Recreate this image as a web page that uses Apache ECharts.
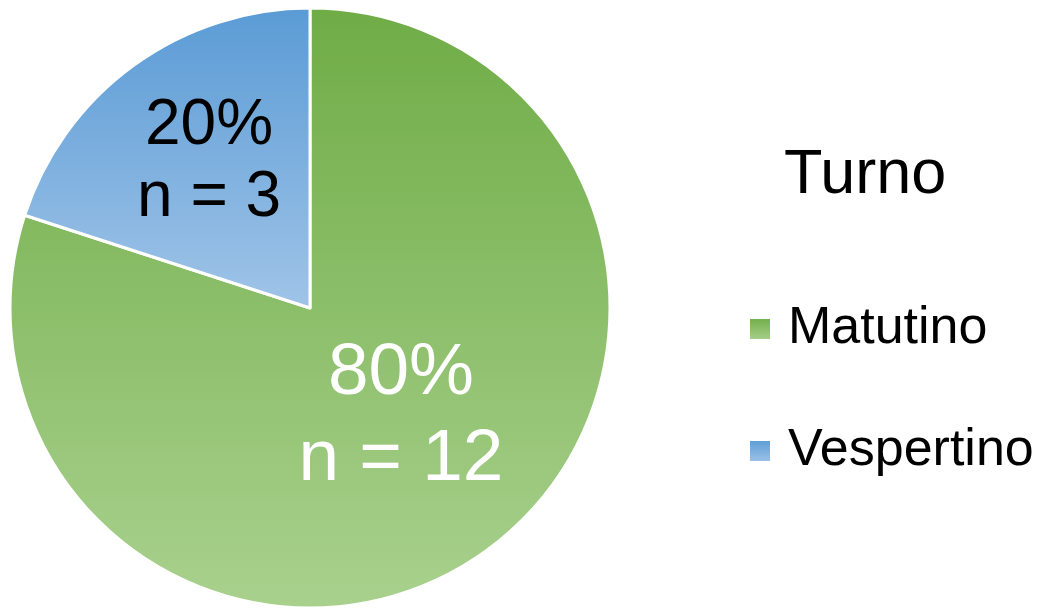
<!DOCTYPE html>
<html>
<head>
<meta charset="utf-8">
<script src="https://cdn.jsdelivr.net/npm/echarts@6/dist/echarts.min.js"></script>
<style>html,body{margin:0;padding:0;background:#fff}#c{width:1046px;height:608px}</style>
</head>
<body>
<div id="c"></div>
<script>
const categories = ['Matutino', 'Vespertino'];
const values = [12, 3];
const legendTitle = 'Turno';

const FONT = '"Liberation Sans", Arial, sans-serif';
const grad = (a, b) => ({ type: 'linear', x: 0, y: 0, x2: 0, y2: 1, colorStops: [{ offset: 0, color: a }, { offset: 1, color: b }] });
const fills = [grad('#6FAC46', '#A9D18E'), grad('#5A9BD5', '#A0C4E8')];
const labelStyles = [
  { color: '#ffffff', fontSize: 73, lineHeight: 86, offset: [1, -15] },
  { color: '#000000', fontSize: 64, lineHeight: 72, offset: [-11, -22] }
];

const chart = echarts.init(document.getElementById('c'), null, { renderer: 'canvas' });
chart.setOption({
  animation: false,
  backgroundColor: '#ffffff',
  title: {
    text: legendTitle,
    left: 784, top: 145, padding: 0,
    textStyle: { fontFamily: FONT, fontSize: 63, lineHeight: 62, fontWeight: 'normal', color: '#000' }
  },
  legend: {
    orient: 'vertical',
    left: 748, top: 299, padding: 0,
    itemWidth: 22, itemHeight: 22, itemGap: 62,
    icon: 'rect',
    data: categories,
    textStyle: { fontFamily: FONT, fontSize: 52, lineHeight: 60, color: '#000', padding: [0, 0, 0, 12] }
  },
  series: [{
    type: 'pie',
    center: [310, 308],
    radius: [0, 300],
    startAngle: 90,
    clockwise: true,
    avoidLabelOverlap: false,
    itemStyle: { borderColor: '#ffffff', borderWidth: 3 },
    label: {
      show: true,
      position: 'inside',
      formatter: '{d}%\nn = {c}',
      fontFamily: FONT
    },
    labelLine: { show: false },
    emphasis: { disabled: true },
    data: categories.map((name, i) => ({
      name, value: values[i],
      itemStyle: { color: fills[i] },
      label: labelStyles[i]
    }))
  }]
});
</script>
</body>
</html>
